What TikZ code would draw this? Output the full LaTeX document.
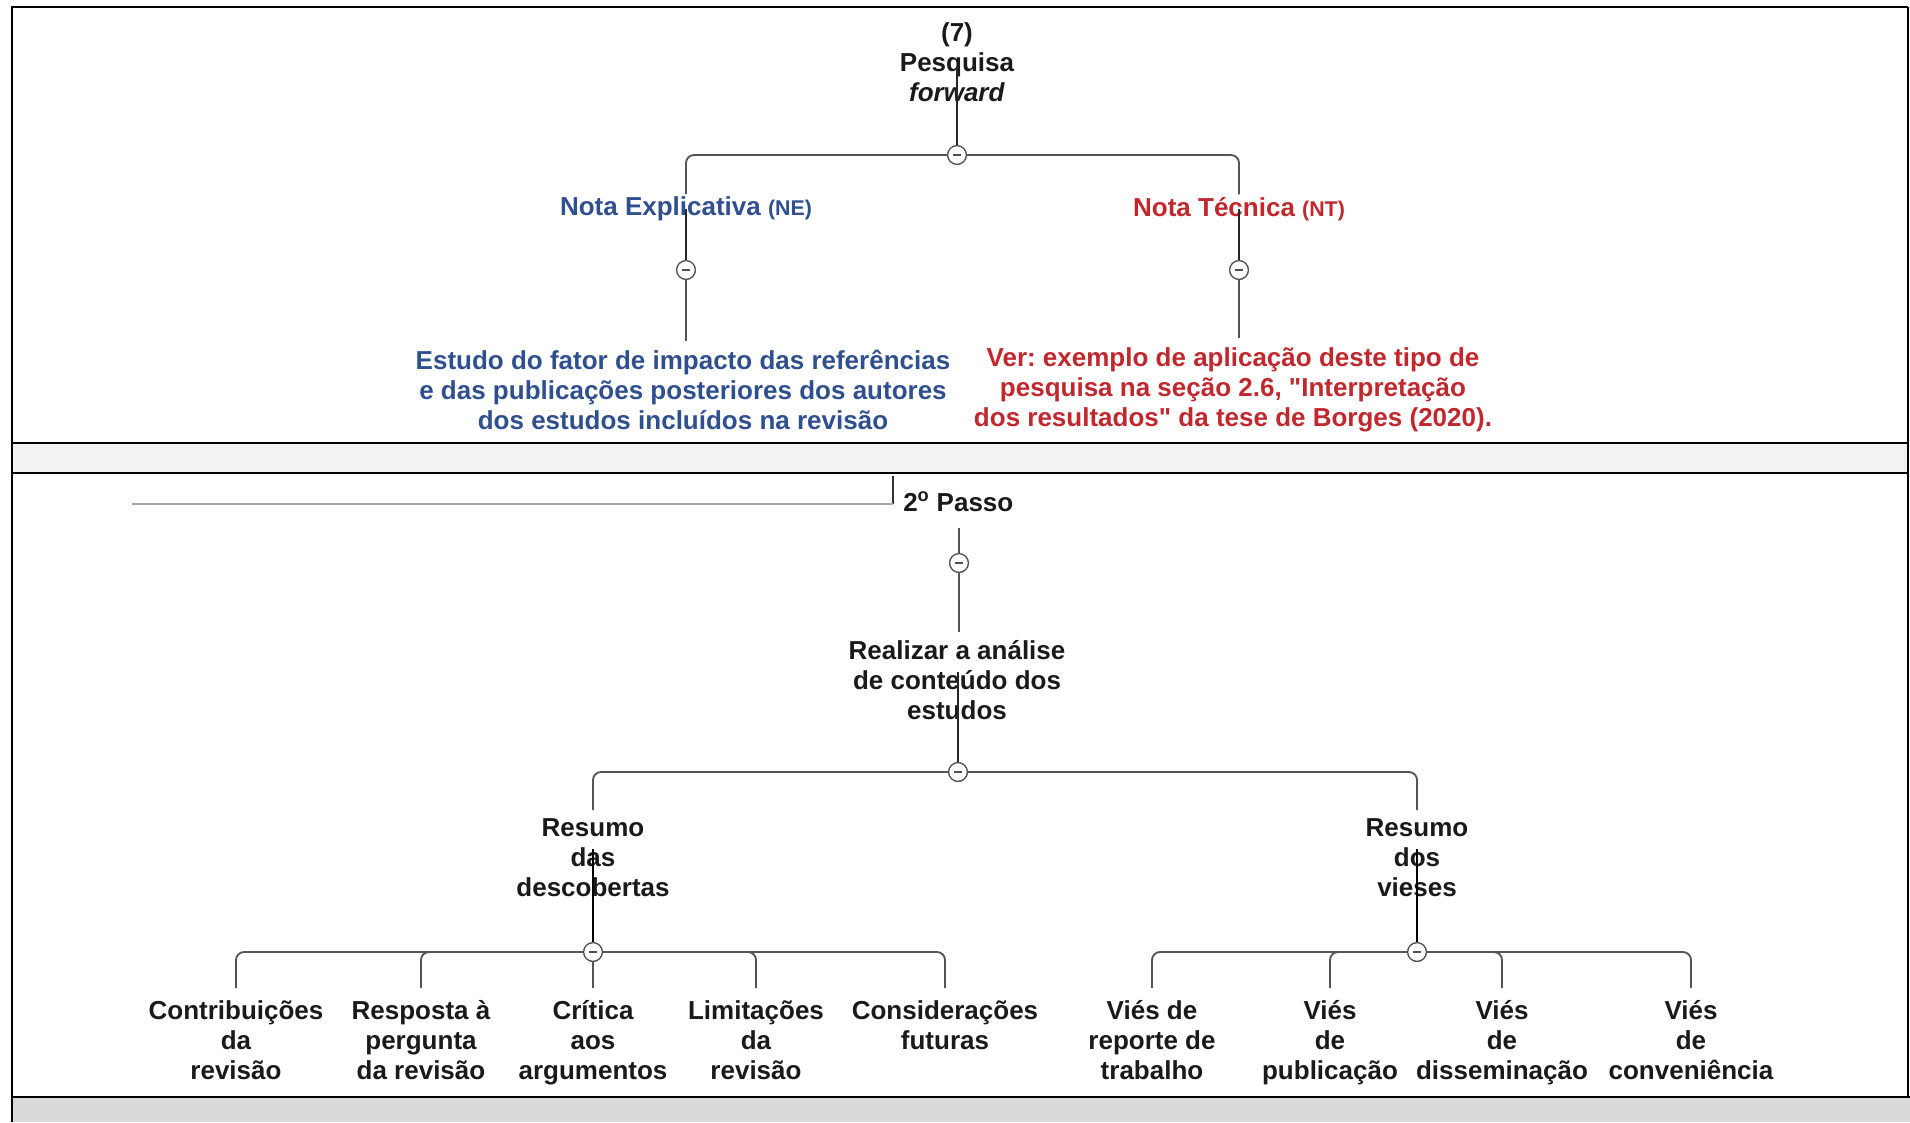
\documentclass[tikz,border=0pt]{standalone}
\usepackage{fontspec}
\setmainfont{Liberation Sans}[Ligatures=TeXOff]
\definecolor{nblue}{HTML}{2F4F8F}
\definecolor{nred}{HTML}{C0282E}
\definecolor{txtblack}{HTML}{1A1A1A}
\definecolor{linegray}{HTML}{555555}
\definecolor{circgray}{HTML}{505050}
\definecolor{bandlight}{HTML}{F2F2F2}
\definecolor{banddark}{HTML}{D9D9D9}
\frenchspacing
\begin{document}
\begin{tikzpicture}[x=0.75pt,y=-0.75pt,
  txt/.style={font=\bfseries\fontsize{19.5}{22.5}\selectfont, align=center, inner sep=0pt, text=txtblack},
  lbl/.style={font=\bfseries\fontsize{19.5}{22.5}\selectfont, inner sep=0pt},
  ln/.style={draw=linegray, line width=1.1pt},
  stem/.style={draw=black!85, line width=1.5pt},
  stemb/.style={draw=black, line width=2pt},
  br/.style={draw=linegray, line width=1.4pt, rounded corners=6pt},
  frame/.style={draw=black, line width=2.2pt},
  tog/.style={circle, draw=circgray, fill=white, line width=0.9pt, minimum size=14pt, inner sep=0pt,
    path picture={\draw[circgray, line width=1pt] ([xshift=-2.8pt]path picture bounding box.center) -- ([xshift=2.8pt]path picture bounding box.center);}}
]
\useasboundingbox (0,0) rectangle (1910,1122);
% backgrounds and frame
\fill[bandlight] (12,443) rectangle (1908,473);
\fill[banddark] (12,1097) rectangle (1910,1122);
\draw[frame] (1908,7) -- (12,7) -- (12,1122);
\draw[frame] (1908,7) -- (1908,1097);
\draw[frame] (12,443) -- (1908,443);
\draw[frame] (12,473) -- (1908,473);
\draw[frame] (12,1097) -- (1910,1097);

% ---------- top panel ----------
\node[txt] (fw) at (957,62) {(7)\\Pesquisa\\\textit{forward}};
\node[lbl, text=nblue] (ne) at (686,209) {Nota Explicativa {\fontsize{16}{18}\selectfont(NE)}};
\node[lbl, text=nred] (nt) at (1239,209) {Nota Técnica {\fontsize{16}{18}\selectfont(NT)}};
\node[txt, text=nblue] (est) at (683,390) {Estudo do fator de impacto das referências\\e das publicações posteriores dos autores\\dos estudos incluídos na revisão};
\node[txt, text=nred] (ver) at (1233,390) {Ver: exemplo de aplicação deste tipo de\\pesquisa na seção 2.6, "Interpretação\\dos resultados" da tese de Borges (2020).};
\node[tog] (t1) at (957,155) {};
\node[tog] (t2) at (686,270) {};
\node[tog] (t3) at (1239,270) {};

\draw[stem] ([yshift=-4pt]fw.center) -- (t1);
\draw[br, shorten >=2pt] (t1) -| (ne.north);
\draw[br, shorten >=2pt] (t1) -| (nt.north);
\draw[stem] (ne.center) -- (t2);
\draw[stem] (nt.center) -- (t3);
\draw[ln, shorten >=7pt] (t2) -- (est.north -| t2);
\draw[ln, shorten >=7pt] (t3) -- (ver.north -| t3);
\node[tog] at (t1) {};
\node[tog] at (t2) {};
\node[tog] at (t3) {};

% ---------- bottom panel ----------
\coordinate (Ltop) at (893,476);
\coordinate (Lcorner) at (893,504);
\coordinate (Lend) at (132,504);
\draw[draw=black!80, line width=1pt] (Ltop) -- (Lcorner);
\draw[draw=gray!70, line width=2.2pt] (Lcorner) -- (Lend);

\node[txt, anchor=west] (passo) at (903,502) {2\textsuperscript{o} Passo};
\node[txt] (real) at (957,680) {Realizar a análise\\de conteúdo dos\\estudos};
\node[txt, anchor=north] (rd) at (593,818) {Resumo\\das\\descobertas};
\node[txt, anchor=north] (rv) at (1417,818) {Resumo\\dos\\vieses};

\node[txt, anchor=north] (c1) at (236,1000) {Contribuições\\da\\revisão};
\node[txt, anchor=north] (c2) at (421,1000) {Resposta à\\pergunta\\da revisão};
\node[txt, anchor=north] (c3) at (593,1000) {Crítica\\aos\\argumentos};
\node[txt, anchor=north] (c4) at (756,1000) {Limitações\\da\\revisão};
\node[txt, anchor=north] (c5) at (945,1000) {Considerações\\futuras};

\node[txt, anchor=north] (v1) at (1152,1000) {Viés de\\reporte de\\trabalho};
\node[txt, anchor=north] (v2) at (1330,1000) {Viés\\de\\publicação};
\node[txt, anchor=north] (v3) at (1502,1000) {Viés\\de\\disseminação};
\node[txt, anchor=north] (v4) at (1691,1000) {Viés\\de\\conveniência};

\node[tog] (t4) at (959,563) {};
\node[tog] (t5) at (958,772) {};
\node[tog] (t6) at (593,952) {};
\node[tog] (t7) at (1417,952) {};

\draw[ln, shorten <=12pt] (passo.south -| t4) -- (t4);
\draw[ln, shorten >=6pt] (t4) -- (real.north -| t4);
\draw[stem] ([yshift=6pt]real.center -| t5) -- (t5);
\draw[br, shorten >=6pt] (t5) -| (rd.north);
\draw[br, shorten >=6pt] (t5) -| (rv.north);
\draw[stemb] ([yshift=6pt]rd.center) -- (t6);
\draw[stemb] ([yshift=6pt]rv.center) -- (t7);

\draw[br, shorten >=9pt] (t6) -| (c1.north);
\draw[br, shorten >=9pt] (t6) -| (c2.north);
\draw[ln, shorten >=9pt] (t6) -- (c3.north);
\draw[br, shorten >=9pt] (t6) -| (c4.north);
\draw[br, shorten >=9pt] (t6) -| (c5.north);

\draw[br, shorten >=9pt] (t7) -| (v1.north);
\draw[br, shorten >=9pt] (t7) -| (v2.north);
\draw[br, shorten >=9pt] (t7) -| (v3.north);
\draw[br, shorten >=9pt] (t7) -| (v4.north);

\node[tog] at (t4) {};
\node[tog] at (t5) {};
\node[tog] at (t6) {};
\node[tog] at (t7) {};
\end{tikzpicture}
\end{document}
